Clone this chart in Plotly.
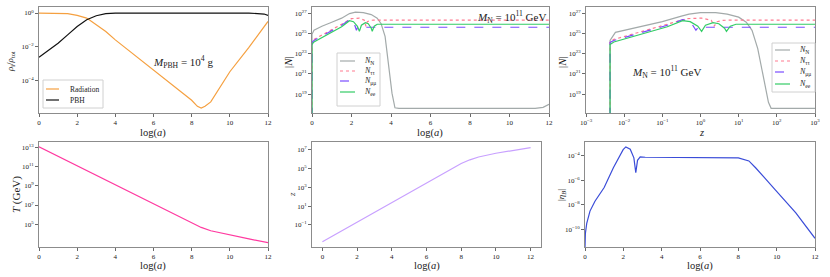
import numpy as np
import plotly.graph_objects as go

# ---------------- data ----------------
# Panel 1: energy fractions vs log(a)  (log10 values)
rad_loga = [0, 1, 1.5, 2, 2.5, 3, 3.5, 4, 5, 6, 7, 8, 8.3, 8.5, 8.7, 9, 10, 11, 12]
rad_logrho = [0.0, 0.0, -0.04, -0.14, -0.3, -0.7, -1.1, -1.6, -2.5, -3.4, -4.3, -5.2, -5.56, -5.66, -5.56, -5.3, -3.5, -2.05, -0.5]
pbh_loga = [0, 0.5, 1, 1.5, 2, 2.5, 3, 3.5, 4, 11, 11.5, 11.8, 12]
pbh_logrho = [-2.64, -2.2, -1.8, -1.3, -0.8, -0.4, -0.16, -0.04, 0.0, 0.0, -0.02, -0.06, -0.14]

# Panel 2: |N| vs log(a)  (log10 |N|)
NN_loga = [0, 0, 0.1, 0.5, 1, 1.5, 1.9, 2.2, 2.6, 3.0, 3.3, 3.5, 3.7, 3.9, 4.05, 4.2, 4.4, 11.3, 11.7, 12]
NN_logN = [15, 24.9, 25.3, 25.7, 26.1, 26.5, 26.95, 27.1, 27.05, 26.85, 26.5, 25.95, 24.7, 21.7, 19.1, 17.65, 17.6, 17.6, 17.7, 18.0]
Ntt_loga = [0, 0, 0.1, 0.5, 1, 1.5, 2.0, 2.4, 2.65, 2.73, 2.8, 2.95, 3.1, 12]
Ntt_logN = [15, 24.2, 24.4, 24.85, 25.35, 25.9, 26.45, 26.5, 26.3, 25.7, 26.15, 26.28, 26.3, 26.3]
Nmm_loga = [0, 0, 0.1, 0.5, 1, 1.5, 1.9, 2.05, 2.15, 2.25, 2.32, 2.45, 12]
Nmm_logN = [15, 24.1, 24.3, 24.75, 25.25, 25.8, 26.35, 26.2, 25.9, 25.3, 25.65, 25.6, 25.6]
Nee_loga = [0, 0, 0.1, 0.5, 1, 1.5, 1.9, 2.1, 2.3, 2.4, 2.5, 2.7, 2.85, 3.0, 3.05, 3.15, 3.3, 12]
Nee_logN = [15, 23.9, 24.15, 24.6, 25.1, 25.65, 26.25, 26.15, 25.7, 25.2, 25.8, 26.05, 25.95, 25.5, 25.2, 25.7, 25.9, 25.9]

# Panel 3: |N| vs z
NN_z = [0.00427, 0.00427, 0.00589, 0.0316, 0.1, 0.316, 0.5, 1.0, 2.5, 5.0, 10.0, 15.8, 22.4, 31.6, 44.7, 60.3, 70.8, 1000]
NN_zlogN = [15, 24.3, 25.1, 25.7, 26.15, 26.7, 26.9, 27.05, 27.05, 26.9, 26.6, 26.1, 25.3, 23.5, 20.8, 18.2, 17.6, 17.6]
Ntt_z = [0.00427, 0.00427, 0.00537, 0.0135, 0.0427, 0.135, 0.427, 1.07, 1.91, 2.29, 2.69, 3.8, 5.4, 1000]
Ntt_zlogN = [15, 24.2, 24.4, 24.85, 25.35, 25.9, 26.45, 26.5, 26.3, 25.7, 26.15, 26.28, 26.3, 26.3]
Nmm_z = [0.00427, 0.00427, 0.00537, 0.0135, 0.0427, 0.135, 0.339, 0.479, 0.603, 0.759, 0.891, 1.2, 1000]
Nmm_zlogN = [15, 24.1, 24.3, 24.75, 25.25, 25.8, 26.35, 26.2, 25.9, 25.3, 25.65, 25.6, 25.6]
Nee_z = [0.00427, 0.00427, 0.00537, 0.0135, 0.0427, 0.135, 0.339, 0.537, 0.851, 1.07, 1.35, 2.14, 3.02, 4.27, 4.79, 6.03, 8.51, 1000]
Nee_zlogN = [15, 23.9, 24.15, 24.6, 25.1, 25.65, 26.25, 26.15, 25.7, 25.2, 25.8, 26.05, 25.95, 25.5, 25.2, 25.7, 25.9, 25.9]

# Panel 4: temperature vs log(a)
T_loga = [0, 2, 4, 6, 7.5, 8, 8.5, 9, 10, 11, 12]
T_logT = [13.1, 11.1, 9.1, 7.1, 5.6, 5.1, 4.65, 4.3, 3.85, 3.45, 3.05]

# Panel 5: z vs log(a)
z_loga = [0, 1, 2, 3, 4, 5, 6, 7, 8, 8.5, 9, 10, 11, 12]
z_logz = [-2.8, -1.75, -0.7, 0.35, 1.4, 2.45, 3.5, 4.55, 5.55, 5.95, 6.25, 6.65, 6.95, 7.25]

# Panel 6: |eta_B| vs log(a)
eta_loga = [0, 0.02, 0.09, 0.26, 0.52, 1.0, 1.48, 1.99, 2.13, 2.36, 2.55, 2.65, 2.74, 2.88, 3.14, 8.0, 8.55, 8.9, 9.94, 11.0, 12.0]
eta_logeta = [-11.5, -10.3, -9.5, -8.5, -7.7, -6.6, -5.0, -3.54, -3.32, -3.5, -4.2, -5.4, -4.4, -4.12, -4.15, -4.2, -4.45, -5.0, -6.8, -8.65, -10.7]

# tick labels
rho_ticks = [0, -2, -4]
N_ticks = [19, 21, 23, 25, 27]
T_ticks = [5, 7, 9, 11, 13]
z_ticks = [-1, 1, 3, 5, 7]
eta_ticks = [-10, -8, -6, -4]
zx_ticks = [-3, -2, -1, 0, 1, 2, 3]
loga_ticks = [0, 2, 4, 6, 8, 10, 12]

# legend labels
leg1_names = ["Radiation", "PBH"]
leg2_names = ["<i>N</i><sub>N</sub>", "<i>N</i><sub>ττ</sub>", "<i>N</i><sub>μμ</sub>", "<i>N</i><sub>ee</sub>"]

# ---------------- styling ----------------
W, H = 830, 277
FONT = "Liberation Serif"
AXC = "#8c8c8c"
C_RAD, C_PBH = "#f5a040", "#111111"
C_NN, C_TT, C_MM, C_EE = "#a3aaaa", "#ff7a90", "#7a4cff", "#33cc66"
C_T, C_Z, C_ETA = "#ff3aa0", "#c8a0ff", "#3a4cd8"


def pw(x):
    return [10.0 ** v for v in x]


def sup(e):
    s = str(e).replace("-", "\u2212")
    return "10<sup>%s</sup>" % s


def xd(a, b):
    return [a / W, b / W]


def yd(top, bot):
    return [1 - bot / H, 1 - top / H]


fig = go.Figure()


def add(x, y, color, dash="solid", xa="x", ya="y", width=1.2):
    fig.add_trace(go.Scatter(
        x=x, y=y, mode="lines",
        line=dict(color=color, width=width, dash=dash),
        xaxis=xa, yaxis=ya, showlegend=False, hoverinfo="skip"))


# panel 1
add(rad_loga, pw(rad_logrho), C_RAD, xa="x", ya="y")
add(pbh_loga, pw(pbh_logrho), C_PBH, xa="x", ya="y")
# panel 2
add(NN_loga, pw(NN_logN), C_NN, xa="x2", ya="y2")
add(Ntt_loga, pw(Ntt_logN), C_TT, dash="dot", xa="x2", ya="y2")
add(Nmm_loga, pw(Nmm_logN), C_MM, dash="dash", xa="x2", ya="y2")
add(Nee_loga, pw(Nee_logN), C_EE, xa="x2", ya="y2")
# panel 3
add(NN_z, pw(NN_zlogN), C_NN, xa="x3", ya="y3")
add(Ntt_z, pw(Ntt_zlogN), C_TT, dash="dot", xa="x3", ya="y3")
add(Nmm_z, pw(Nmm_zlogN), C_MM, dash="dash", xa="x3", ya="y3")
add(Nee_z, pw(Nee_zlogN), C_EE, xa="x3", ya="y3")
# row 2
add(T_loga, pw(T_logT), C_T, xa="x4", ya="y4")
add(z_loga, pw(z_logz), C_Z, xa="x5", ya="y5")
add(eta_loga, pw(eta_logeta), C_ETA, xa="x6", ya="y6")

tickfont = dict(family=FONT, size=7, color="#222")


def axis(domain, anchor, rng, typ="linear", tv=None, tt=None):
    d = dict(domain=domain, anchor=anchor, range=rng, type=typ,
             showline=True, linecolor=AXC, linewidth=1, mirror=True,
             ticks="outside", ticklen=3, tickcolor="#444", tickwidth=0.8,
             showgrid=False, zeroline=False, tickfont=tickfont, automargin=False)
    if tv is not None:
        d.update(tickmode="array", tickvals=tv, ticktext=tt)
    return d


R1 = yd(7, 113)
R2 = yd(142, 247)
lin_tt = [str(v) for v in loga_ticks]

fig.update_layout(
    width=W, height=H, margin=dict(l=0, r=0, t=0, b=0, autoexpand=False),
    paper_bgcolor="white", plot_bgcolor="white", showlegend=False,
    font=dict(family=FONT, color="#222"),
    xaxis=axis(xd(39, 268), "y", [0, 12], tv=loga_ticks, tt=lin_tt),
    yaxis=axis(R1, "x", [-5.96, 0.36], "log", pw(rho_ticks), [sup(v) for v in rho_ticks]),
    xaxis2=axis(xd(312, 549), "y2", [0, 12], tv=loga_ticks, tt=lin_tt),
    yaxis2=axis(R1, "x2", [17.14, 27.6], "log", pw(N_ticks), [sup(v) for v in N_ticks]),
    xaxis3=axis(xd(586, 815), "y3", [-3, 3], "log", pw(zx_ticks), [sup(v) for v in zx_ticks]),
    yaxis3=axis(R1, "x3", [17.14, 27.6], "log", pw(N_ticks), [sup(v) for v in N_ticks]),
    xaxis4=axis(xd(39, 268), "y4", [0, 12], tv=loga_ticks, tt=lin_tt),
    yaxis4=axis(R2, "x4", [2.6, 13.6], "log", pw(T_ticks), [sup(v) for v in T_ticks]),
    xaxis5=axis(xd(312, 541), "y5", [-0.6, 12.6], tv=loga_ticks, tt=lin_tt),
    yaxis5=axis(R2, "x5", [-3.35, 7.85], "log", pw(z_ticks), [sup(v) for v in z_ticks]),
    xaxis6=axis(xd(585, 815), "y6", [0, 12], tv=loga_ticks, tt=lin_tt),
    yaxis6=axis(R2, "x6", [-11.4, -2.92], "log", pw(eta_ticks), [sup(v) for v in eta_ticks]),
)


def ann(x, y, text, size=11, angle=0, xanchor="center"):
    fig.add_annotation(x=x / W, y=1 - y / H, xref="paper", yref="paper", showarrow=False,
                       text=text, textangle=angle, xanchor=xanchor, yanchor="middle",
                       font=dict(family=FONT, size=size, color="#222"))


def legend_box(x0, y0, x1, y1, items, line_x0, line_x1, text_x, ys, size=8):
    fig.add_shape(type="rect", xref="paper", yref="paper",
                  x0=x0 / W, x1=x1 / W, y0=1 - y1 / H, y1=1 - y0 / H,
                  line=dict(color="#d0d0d0", width=1), fillcolor="white", layer="above")
    for (name, color, dash), yy in zip(items, ys):
        fig.add_shape(type="line", xref="paper", yref="paper",
                      x0=line_x0 / W, x1=line_x1 / W, y0=1 - yy / H, y1=1 - yy / H,
                      line=dict(color=color, width=1.2, dash=dash), layer="above")
        ann(text_x, yy, name, size=size, xanchor="left")


legend_box(43, 80, 103, 108,
           [(leg1_names[0], C_RAD, "solid"), (leg1_names[1], C_PBH, "solid")],
           46, 59, 68, [89, 100], size=7.5)
items2 = [(leg2_names[0], C_NN, "solid"), (leg2_names[1], C_TT, "dot"),
          (leg2_names[2], C_MM, "dash"), (leg2_names[3], C_EE, "solid")]
legend_box(337, 53, 380, 106, items2, 340, 355, 362, [61, 71, 81, 92], size=8)
legend_box(772, 43, 815, 92, items2, 775, 790, 797, [50, 61, 72, 84], size=8)

# in-plot labels
ann(183, 62, "<i>M</i><sub>PBH</sub> = 10<sup>4</sup> g")
ann(511, 17, "<i>M</i><sub>N</sub> = 10<sup>11</sup> GeV")
ann(666, 72, "<i>M</i><sub>N</sub> = 10<sup>11</sup> GeV")

# axis titles
XT = "log(<i>a</i>)"
ann(153, 133, XT, size=10.5)
ann(430, 133, XT, size=10.5)
ann(701, 132, "<i>z</i>", size=10.5)
ann(153, 266, XT, size=10.5)
ann(427, 266, XT, size=10.5)
ann(700, 266, XT, size=10.5)
ann(11, 62, "<i>ρ</i><sub>i</sub>/<i>ρ</i><sub>tot</sub>", size=9, angle=-90)
ann(288, 62, "|<i>N</i>|", angle=-90)
ann(562, 62, "|<i>N</i>|", angle=-90)
ann(16, 195, "<i>T</i> (GeV)", angle=-90)
ann(292, 195, "<i>z</i>", size=9, angle=-90)
ann(561, 195, "|<i>η</i><sub><i>B</i></sub>|", size=9, angle=-90)

fig.write_html("out.html", config={"displayModeBar": False, "staticPlot": True},
               post_script="document.body.style.margin='0';document.body.style.overflow='hidden';")
